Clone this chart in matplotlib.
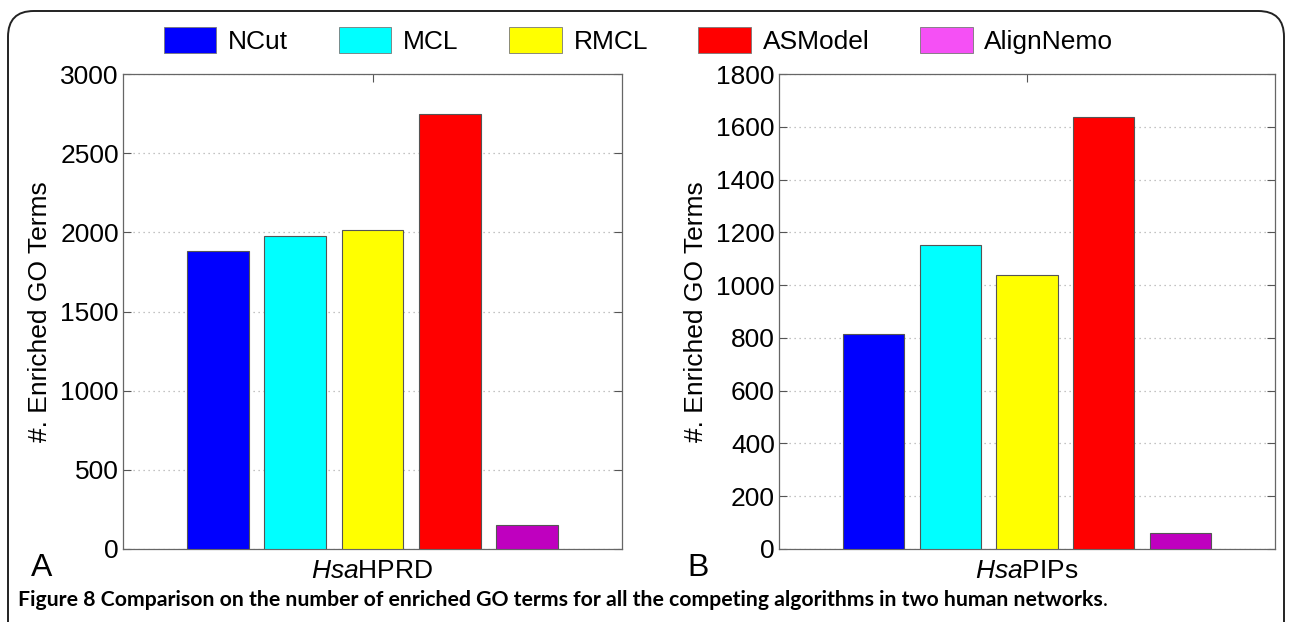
import matplotlib
matplotlib.use("Agg")
import matplotlib.pyplot as plt
from matplotlib.patches import Patch, FancyBboxPatch

plt.rcParams['font.family'] = ['Liberation Sans', 'DejaVu Sans']
plt.rcParams['mathtext.fontset'] = 'custom'
plt.rcParams['mathtext.rm'] = 'Liberation Sans'
plt.rcParams['mathtext.it'] = 'Liberation Sans:italic'

methods = ['NCut', 'MCL', 'RMCL', 'ASModel', 'AlignNemo']
bar_colors = ['#0000ff', '#00ffff', '#ffff00', '#ff0000', '#bf00bf']
legend_colors = ['#0000ff', '#00ffff', '#ffff00', '#ff0000', '#f550f5']

hprd_terms = [1880, 1980, 2015, 2750, 152]
pips_terms = [815, 1152, 1040, 1637, 60]

hprd_ticks = [0, 500, 1000, 1500, 2000, 2500, 3000]
pips_ticks = [0, 200, 400, 600, 800, 1000, 1200, 1400, 1600, 1800]

fig = plt.figure(figsize=(12.9, 6.22), dpi=100)

# rounded frame around the whole figure, open at the bottom
frame = FancyBboxPatch((8 / 1290, -0.2), 1276 / 1290, 1.2 - 11 / 622,
                       boxstyle="round,pad=0,rounding_size=0.02",
                       transform=fig.transFigure, fill=False,
                       edgecolor='#222222', linewidth=1.4, zorder=0,
                       mutation_aspect=1290 / 622)
fig.patches.append(frame)

ax1 = fig.add_axes([123 / 1290, 73 / 622, 499 / 1290, 475 / 622])
ax2 = fig.add_axes([779 / 1290, 73 / 622, 496 / 1290, 475 / 622])

pos = [1, 2, 3, 4, 5]


def draw_panel(ax, values, yticks, name, letter):
    ax.bar(pos, values, width=0.8, color=bar_colors, edgecolor='#555555',
           linewidth=0.8, zorder=3)
    ax.set_xlim(3 - 3.23, 3 + 3.23)
    ax.set_ylim(0, yticks[-1])
    ax.set_yticks(yticks)
    ax.set_xticks([3])
    ax.set_xticklabels([name])
    ax.yaxis.grid(True, linestyle=(0, (1, 3)), color='#b0b0b0', linewidth=0.9)
    ax.set_axisbelow(True)
    ax.tick_params(direction='in', length=6, width=0.8, color='#555555',
                   labelsize=19, top=True, right=True, pad=3)
    ax.tick_params(axis='x', pad=7)
    for sp in ax.spines.values():
        sp.set_color('#666666')
        sp.set_linewidth(0.9)
    ax.set_ylabel('#. Enriched GO Terms', fontsize=19, labelpad=6)
    ax.text(-0.185, -0.04, letter, transform=ax.transAxes, fontsize=23,
            ha='left', va='center')


draw_panel(ax1, hprd_terms, hprd_ticks, r'$\mathit{Hsa}$HPRD', 'A')
draw_panel(ax2, pips_terms, pips_ticks, r'$\mathit{Hsa}$PIPs', 'B')

handles = [Patch(facecolor=c, edgecolor='#777777', linewidth=0.6)
           for c in legend_colors]
fig.legend(handles, methods, loc='center', bbox_to_anchor=(0.495, 0.935),
           ncol=5, frameon=False, fontsize=19, handlelength=2.0,
           handleheight=1.15, handletextpad=0.45, columnspacing=1.9)

caption = fig.text(18 / 1290, 22 / 622,
                   'Figure 8 Comparison on the number of enriched GO terms '
                   'for all the competing algorithms in two human networks',
                   fontsize=15.3, fontweight='bold',
                   family=['Lato', 'DejaVu Sans'], ha='left', va='center')

# closing period in regular weight right after the bold caption
fig.canvas.draw()
bb = caption.get_window_extent().transformed(fig.transFigure.inverted())
fig.text(bb.x1, 22 / 622, '.', fontsize=15.3,
         family=['Lato', 'DejaVu Sans'], ha='left', va='center')

fig.savefig('out.png', dpi=100)
